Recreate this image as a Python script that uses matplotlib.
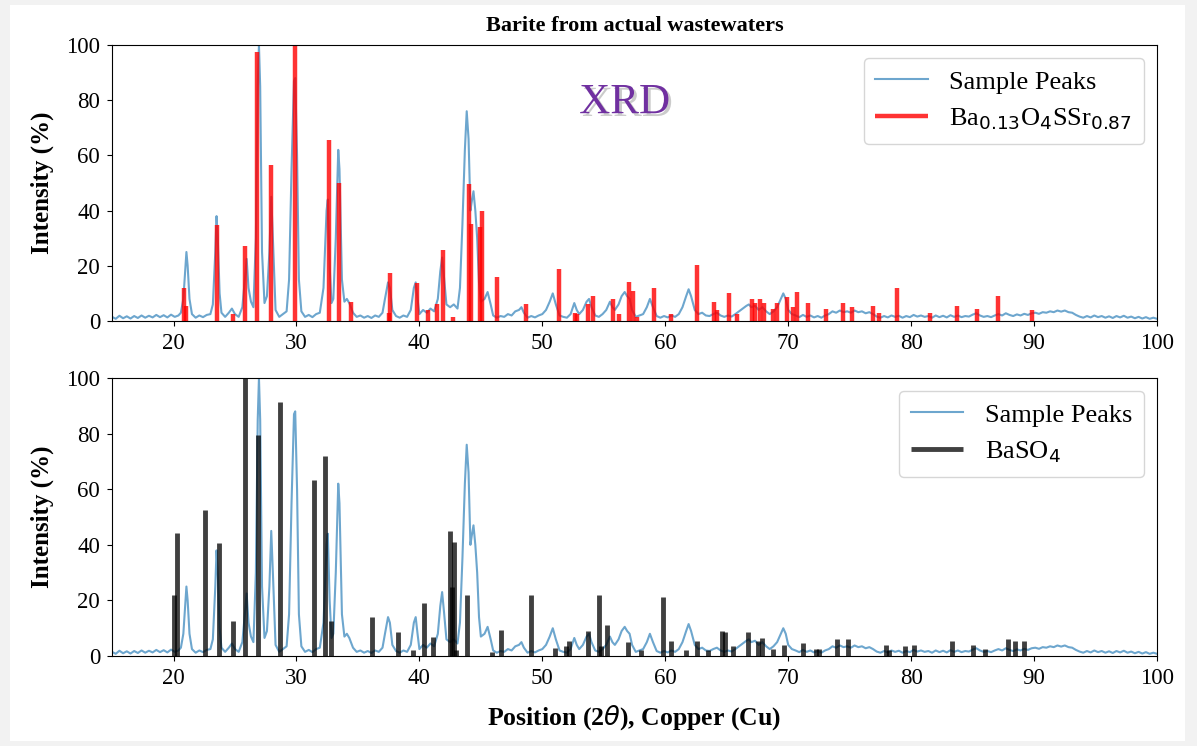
import matplotlib.pyplot as plt
import matplotlib.patheffects as pe
from matplotlib.patches import Rectangle

plt.rcParams['font.family'] = ['Liberation Serif', 'DejaVu Serif']

sample_x = [15.0, 15.3, 15.6, 15.9, 16.2, 16.5, 16.8, 17.1, 17.4, 17.7, 18.0, 18.3, 18.6, 18.9, 19.2, 19.5,
            19.8, 20.1, 20.4, 20.6, 20.8, 20.95, 21.05, 21.15, 21.3, 21.5, 21.8, 22.1, 22.4, 22.7, 23.0, 23.2,
            23.4, 23.5, 23.6, 23.75, 23.9, 24.2, 24.5, 24.75, 25.0, 25.3, 25.6, 25.8, 25.95, 26.1, 26.3, 26.5,
            26.7, 26.85, 26.95, 27.05, 27.2, 27.4, 27.6, 27.8, 27.95, 28.1, 28.3, 28.6, 28.9, 29.2, 29.4, 29.6,
            29.8, 29.9, 30.05, 30.2, 30.4, 30.7, 31.0, 31.3, 31.6, 31.9, 32.2, 32.45, 32.55, 32.7, 32.85, 33.0,
            33.2, 33.4, 33.5, 33.7, 33.9, 34.1, 34.3, 34.6, 34.9, 35.2, 35.5, 35.8, 36.1, 36.4, 36.7, 37.0,
            37.2, 37.45, 37.6, 37.8, 38.1, 38.4, 38.7, 39.0, 39.3, 39.55, 39.7, 39.85, 40.0, 40.3, 40.6, 40.9,
            41.2, 41.5, 41.7, 41.85, 42.0, 42.2, 42.5, 42.8, 43.1, 43.3, 43.5, 43.7, 43.85, 44.0, 44.15, 44.25,
            44.4, 44.55, 44.7, 44.85, 45.0, 45.3, 45.55, 45.8, 46.0, 46.3, 46.6, 46.9, 47.2, 47.5, 47.8, 48.1,
            48.3, 48.5, 48.8, 49.1, 49.4, 49.7, 50.0, 50.3, 50.6, 50.85, 51.1, 51.4, 51.7, 52.0, 52.3, 52.6,
            52.8, 53.0, 53.3, 53.6, 53.8, 54.0, 54.3, 54.6, 54.9, 55.2, 55.5, 55.7, 55.9, 56.2, 56.45, 56.7,
            56.9, 57.1, 57.3, 57.6, 57.9, 58.2, 58.5, 58.75, 59.0, 59.3, 59.6, 59.9, 60.2, 60.5, 60.8, 61.1,
            61.4, 61.7, 61.9, 62.1, 62.4, 62.7, 63.0, 63.3, 63.6, 63.9, 64.2, 64.5, 64.8, 65.1, 65.4, 65.7,
            66.0, 66.3, 66.6, 66.8, 67.0, 67.3, 67.6, 67.9, 68.2, 68.5, 68.8, 69.1, 69.4, 69.6, 69.8, 70.0,
            70.3, 70.6, 70.9, 71.2, 71.5, 71.8, 72.1, 72.4, 72.7, 73.0, 73.3, 73.6, 73.9, 74.2, 74.5, 74.8,
            75.1, 75.4, 75.7, 76.0, 76.3, 76.6, 76.9, 77.2, 77.5, 77.8, 78.1, 78.4, 78.7, 79.0, 79.3, 79.6,
            79.9, 80.2, 80.5, 80.8, 81.1, 81.4, 81.7, 82.0, 82.3, 82.6, 82.9, 83.2, 83.5, 83.8, 84.1, 84.4,
            84.7, 85.0, 85.3, 85.6, 85.9, 86.2, 86.5, 86.8, 87.1, 87.4, 87.7, 88.0, 88.3, 88.6, 88.9, 89.2,
            89.5, 89.8, 90.1, 90.4, 90.7, 91.0, 91.3, 91.6, 91.9, 92.2, 92.5, 92.8, 93.1, 93.4, 93.7, 94.0,
            94.3, 94.6, 94.9, 95.2, 95.5, 95.8, 96.1, 96.4, 96.7, 97.0, 97.3, 97.6, 97.9, 98.2, 98.5, 98.8,
            99.1, 99.4, 99.7, 100.0]
sample_y = [1.5, 0.8, 1.9, 1.0, 1.7, 0.9, 1.8, 1.1, 2.0, 1.2, 1.9, 1.3, 2.2, 1.4, 2.1, 1.3,
            2.3, 1.5, 2.0, 3.0, 8.0, 18, 25, 20, 8, 2.5, 1.2, 2.0, 1.4, 2.2, 2.5, 6,
            25, 38, 30, 10, 3, 1.5, 3, 4.5, 2.5, 1.5, 5, 15, 22.5, 12, 7, 5,
            30, 85, 100, 85, 25, 6.5, 9, 25, 45, 28, 4, 1.5, 2.5, 3.5, 15, 55,
            87, 88, 60, 15, 3.5, 1.5, 2.2, 1.4, 2.5, 3, 12, 40, 44, 20, 6.5, 8,
            30, 62, 55, 15, 7, 8, 6.5, 3, 1.5, 2.0, 1.2, 1.8, 1.1, 2.0, 1.5, 3,
            8, 14, 12, 4, 1.8, 1.2, 2.0, 1.5, 4, 12, 14, 8, 2.5, 4, 3, 4.5,
            3.5, 8, 18, 23, 16, 6, 5, 6, 4.5, 12, 35, 62, 76, 66, 40, 43,
            47, 40, 30, 14, 7, 8, 10.5, 6, 2, 1.2, 1.8, 1.5, 2.5, 2.0, 3.5, 4,
            5, 3, 1.2, 1.8, 1.3, 2.0, 2.5, 4, 7, 10, 6, 2, 1.5, 1.2, 2.5, 6.5,
            4, 2.5, 4, 7, 8, 5, 2, 1.5, 2.5, 4, 7, 5, 4, 6, 9, 10.5,
            9, 8, 4, 1.5, 2, 2.5, 5, 8, 5, 1.8, 1.2, 1.8, 1.3, 2.0, 1.5, 2.5,
            5, 9, 11.5, 9, 4, 2.5, 3, 2, 1.8, 2.5, 3, 2.0, 1.5, 2.0, 1.6, 2.5,
            3.5, 4.5, 5.5, 6, 5, 5.5, 4, 5, 3.5, 2.5, 3.5, 5, 8, 10, 8, 4,
            2.5, 2.0, 1.4, 2.2, 1.5, 2.0, 1.3, 1.8, 1.2, 2.0, 2.5, 3.5, 3.0, 3.8, 3.2, 3.5,
            3.0, 3.8, 3.2, 3.5, 2.8, 3.2, 2.5, 1.6, 1.2, 1.8, 1.3, 2.0, 1.5, 1.9, 1.2, 1.8,
            1.4, 2.2, 1.6, 2.0, 1.5, 1.8, 1.2, 2.0, 1.4, 1.9, 1.3, 2.1, 1.5, 2.0, 1.4, 1.8,
            1.6, 2.3, 2.8, 2.0, 1.5, 1.8, 1.4, 2.0, 2.5, 2.0, 2.8, 2.2, 1.8, 2.4, 2.0, 2.6,
            2.2, 2.8, 3.0, 2.6, 3.2, 3.0, 3.5, 3.2, 3.8, 3.4, 3.8, 3.2, 3.0, 2.2, 1.6, 1.2,
            1.8, 1.3, 2.0, 1.4, 1.8, 1.2, 1.7, 1.1, 1.8, 1.3, 1.9, 1.2, 1.6, 1.0, 1.5, 0.9,
            1.4, 0.8, 1.2, 0.8]

# Reference card: Ba0.13O4SSr0.87
ref1_x = [20.88, 21.05, 23.52, 24.8, 25.82, 26.82, 27.91, 29.89, 32.66, 33.44, 34.45, 37.5, 37.62,
          39.8, 40.74, 41.42, 41.91, 42.77, 44.05, 44.2, 44.94, 45.13, 46.3, 48.69, 51.32, 52.67,
          52.85, 53.7, 54.1, 55.74, 56.2, 57.09, 57.37, 57.7, 59.05, 60.46, 62.57, 63.93, 64.2,
          65.15, 65.8, 67.05, 67.3, 67.67, 68.0, 68.8, 69.08, 69.9, 70.4, 70.72, 71.57, 73.1,
          74.45, 75.21, 76.89, 77.35, 78.85, 81.56, 83.73, 85.35, 87.03, 89.83]
ref1_h = [12, 5.6, 34.8, 2.5, 27, 97.6, 56.5, 100, 65.6, 49.9, 7, 3, 17.3,
          13.6, 4, 6, 25.7, 1.5, 49.6, 35, 34, 40, 15.8, 6, 18.7, 3,
          2.5, 6, 9, 8, 2.5, 14, 11, 1.5, 12, 2.5, 20.3, 7, 4,
          10, 2.5, 8, 6.5, 8, 6.5, 4.5, 6.5, 8.8, 5, 10.6, 6.5, 4.5,
          6.5, 5, 5.5, 3, 11.8, 3, 5.5, 4.5, 9, 4]

# Reference card: BaSO4
ref2_x = [20.04, 20.31, 22.59, 23.68, 24.87, 25.82, 26.88, 28.67, 31.44, 32.33, 32.8, 36.13, 38.3,
          39.52, 40.39, 41.14, 42.5, 42.62, 42.83, 43.0, 43.91, 45.9, 46.63, 49.06, 51.04, 51.93,
          52.13, 53.75, 54.57, 54.8, 55.3, 57.0, 58.0, 59.84, 60.46, 61.7, 62.57, 63.46, 64.6,
          64.87, 65.55, 66.69, 67.58, 67.86, 68.8, 69.62, 71.2, 72.3, 72.5, 74.0, 74.9, 77.98,
          78.2, 79.52, 80.2, 83.32, 85.03, 86.0, 87.85, 88.47, 89.15]
ref2_h = [21.9, 44.4, 52.5, 40.5, 12.7, 100, 79.5, 91.5, 63.3, 72, 12.7, 14.1, 8.7,
          2, 19, 6.7, 45, 25, 41, 2, 22, 1.5, 9.4, 22, 3, 3.5,
          5.5, 9, 22, 3.5, 11, 5, 2, 21.3, 5.5, 2.3, 5.5, 2, 9,
          8.5, 3.5, 8.5, 5.5, 6.5, 2.5, 4, 4.8, 2.5, 2.5, 6.3, 6.3, 4,
          2, 3.5, 4, 5.5, 4, 2.5, 6.3, 5.5, 5.5]

fig = plt.figure(figsize=(11.97, 7.46), dpi=100, facecolor='#f2f2f2')
fig.patches.append(Rectangle((10 / 1197, 5 / 746), 1175 / 1197, 736 / 746,
                             transform=fig.transFigure, facecolor='white', edgecolor='none', zorder=-10))

ax1 = fig.add_axes([0.0936, 0.5697, 0.873, 0.37])
ax2 = fig.add_axes([0.0936, 0.1206, 0.873, 0.3727])

ax1.plot(sample_x, sample_y, color='#1f77b4', lw=1.5, alpha=0.65, label='Sample Peaks')
ax1.vlines(ref1_x, 0, ref1_h, colors='red', lw=3.2, alpha=0.8, label='Ba$_{0.13}$O$_4$SSr$_{0.87}$')

ax2.plot(sample_x, sample_y, color='#1f77b4', lw=1.5, alpha=0.65, label='Sample Peaks')
ax2.vlines(ref2_x, 0, ref2_h, colors='black', lw=3.5, alpha=0.75, label='BaSO$_4$')

for ax in (ax1, ax2):
    ax.set_xlim(15, 100)
    ax.set_ylim(0, 100)
    ax.set_xticks([20, 30, 40, 50, 60, 70, 80, 90, 100])
    ax.set_yticks([0, 20, 40, 60, 80, 100])
    ax.tick_params(labelsize=16.5, pad=5)
    ax.set_ylabel('Intensity (%)', fontsize=18, fontweight='bold', labelpad=9)
    ax.legend(loc='upper right', fontsize=19, handlelength=2.0, borderpad=0.45)
    ax.set_facecolor('none')

ax1.set_title('Barite from actual wastewaters', fontsize=16, fontweight='bold', pad=10)
ax2.set_xlabel(r'Position (2$\theta$), Copper (Cu)', fontsize=18.5, fontweight='bold', labelpad=10)

ax1.text(56.7, 79, 'XRD', fontsize=31, color='#7030a0', ha='center', va='center',
         path_effects=[pe.withSimplePatchShadow(offset=(2, -2), shadow_rgbFace='#999999', alpha=0.5)])

fig.savefig('out.png', dpi=100, facecolor=fig.get_facecolor())
